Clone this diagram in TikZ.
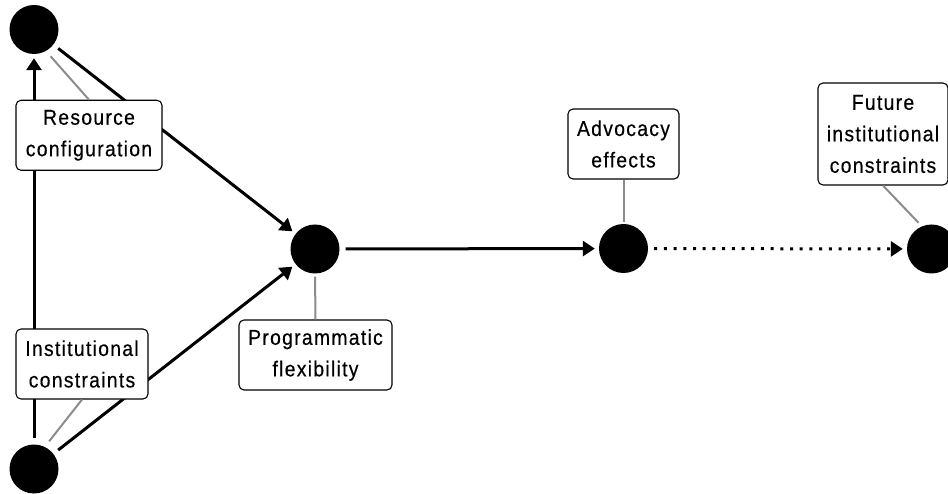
\documentclass[tikz,border=0pt]{standalone}
\usepackage{fontspec}
\setmainfont[FakeStretch=0.9,LetterSpace=6,FakeBold=0.4]{Liberation Sans}
\usetikzlibrary{arrows.meta}
\newcommand{\causal}{-{Triangle[length=12pt,width=15pt]}}

\begin{document}
\begin{tikzpicture}[x=1pt,y=-1pt,
  dot/.style={circle,fill=black,minimum size=49pt,inner sep=0pt},
  lab/.style={draw=black,line width=1.1pt,rounded corners=5pt,fill=white,
    align=center,inner sep=0pt,minimum height=70pt,
    font=\fontsize{21.5}{31.5}\selectfont},
  link/.style={line width=3pt,shorten <=6pt,shorten >=4pt},
  pin/.style={draw=black!45,line width=2pt}]
\useasboundingbox (0,0) rectangle (948,494);
%variables
\node[dot] (res)  at ( 34, 29.5) {};
\node[dot] (inst) at ( 34,469)   {};
\node[dot] (prog) at (315,249)   {};
\node[dot] (adv)  at (623.5,248.5) {};
\node[dot] (fut)  at (931.5,249) {};
%paths
\draw[link,\causal] (inst) -- (res);
\draw[link,\causal] (res)  -- (prog);
\draw[link,\causal] (inst) -- (prog);
\draw[link,\causal] (prog) -- (adv);
\draw[link,dash pattern=on 3pt off 6.7pt,\causal] (adv) -- (fut);
%labels
\node[lab,minimum width=146pt] (rcbox) at ( 89,135.3) {Resource\\configuration};
\node[lab,minimum width=132pt] (icbox) at ( 82,364)   {Institutional\\constraints};
\node[lab,minimum width=153pt] (pfbox) at (315.5,355) {Programmatic\\flexibility};
\node[lab,minimum width=111pt] (aebox) at (623.5,144) {Advocacy\\effects};
\node[lab,minimum width=130pt,minimum height=102pt] (fibox) at (883,134) {Future\\institutional\\constraints};
\draw[pin,shorten <=7pt] (res.-61) -- (rcbox.north);
\draw[pin,shorten <=7pt] (inst.64) -- (icbox.south);
\draw[pin,shorten <=3pt] (prog.south) -- (pfbox.north);
\draw[pin,shorten <=2pt] (adv.north) -- (aebox.south);
\draw[pin,shorten <=5pt] (fut.113) -- (fibox.south);
\end{tikzpicture}
\end{document}
